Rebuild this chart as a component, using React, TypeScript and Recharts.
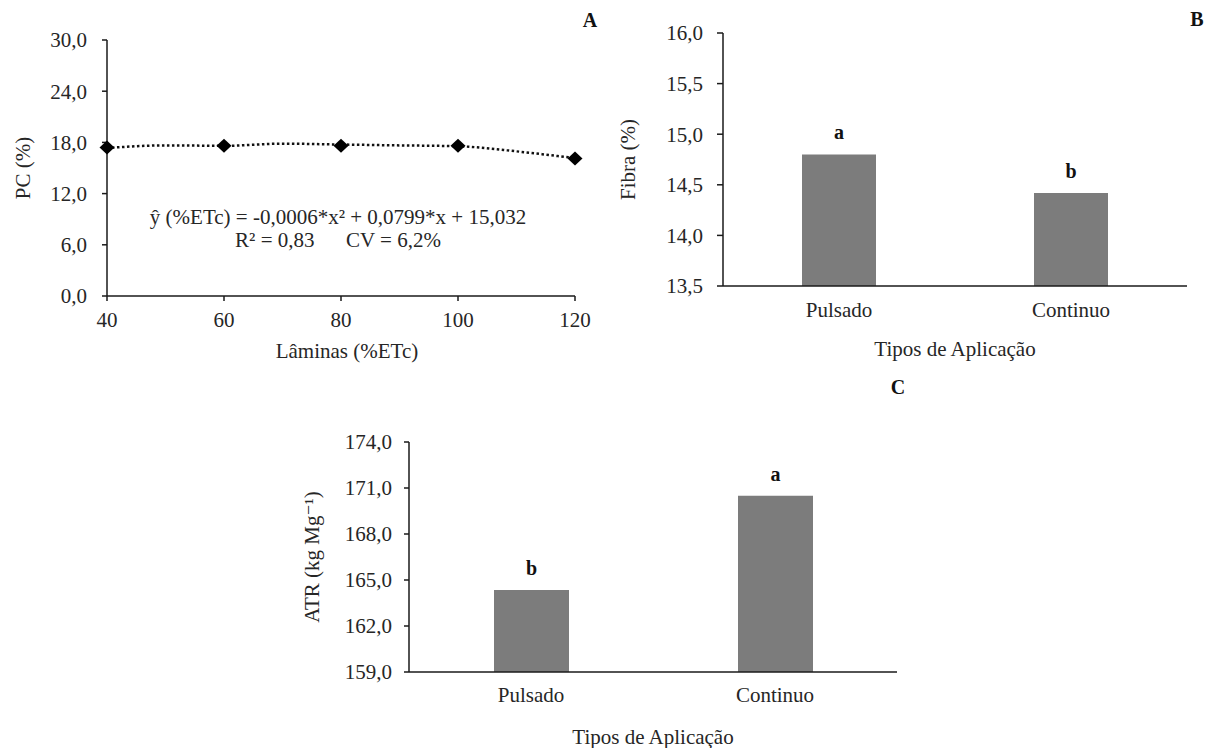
import {
  ComposedChart, Line, BarChart, Bar, XAxis, YAxis, Label, LabelList,
} from "recharts";

const FONT = "'Liberation Serif', 'DejaVu Serif', 'Times New Roman', Times, serif";
const INK = "#262626";
const AXIS = "#1a1a1a";
const BAR = "#7c7c7c";

// A - PC (%) x Lâminas
const laminas = [40, 60, 80, 100, 120];
const pc = [17.4, 17.6, 17.6, 17.6, 16.1];
const trendX = [40, 50, 60, 70, 80, 90, 100, 110, 120];
const trendY = [17.34, 17.65, 17.6, 17.85, 17.75, 17.65, 17.55, 16.95, 16.15];
const pcTicks = [0, 6, 12, 18, 24, 30];

// B - Fibra (%)
const tipos = ["Pulsado", "Continuo"];
const fibra = [14.8, 14.42];
const letrasFibra = ["a", "b"];
const fibraTicks = [13.5, 14, 14.5, 15, 15.5, 16];

// C - ATR
const atr = [164.35, 170.5];
const letrasAtr = ["b", "a"];
const atrTicks = [159, 162, 165, 168, 171, 174];

const fmt = (v: number) => v.toFixed(1).replace(".", ",");

const tickStyle = { fill: INK, fontSize: 21, fontFamily: FONT };
const titleStyle = { fill: INK, fontSize: 21, fontFamily: FONT };
const yTitleStyle = { fill: INK, fontSize: 21, fontFamily: FONT, textAnchor: "middle" as const };
const axisLine = { stroke: AXIS, strokeWidth: 1.5 };
const letterStyle = { fill: "#111", fontSize: 20, fontFamily: FONT, fontWeight: "bold" as const };

const pointData = laminas.map((x, i) => ({ x, y: pc[i] }));
const trendData = trendX.map((x, i) => ({ x, y: trendY[i] }));
const fibraData = tipos.map((name, i) => ({ name, v: fibra[i], letra: letrasFibra[i] }));
const atrData = tipos.map((name, i) => ({ name, v: atr[i], letra: letrasAtr[i] }));

function Diamond(props: any) {
  const { cx, cy, index } = props;
  if (cx == null || cy == null) return null;
  return (
    <polygon
      key={`d-${index}`}
      points={`${cx},${cy - 7} ${cx + 7.5},${cy} ${cx},${cy + 7} ${cx - 7.5},${cy}`}
      fill="#000"
    />
  );
}

function PanelLetter({ x, y, text }: { x: number; y: number; text: string }) {
  return (
    <span
      style={{
        position: "absolute", left: x, top: y, transform: "translate(-50%, -50%)",
        fontFamily: FONT, fontWeight: "bold", fontSize: 20, color: "#111", lineHeight: 1,
      }}
    >
      {text}
    </span>
  );
}

export default function App() {
  return (
    <div style={{ position: "absolute", left: 0, top: 0, width: 1215, height: 748, background: "#fff" }}>
      {/* A */}
      <div style={{ position: "absolute", left: 0, top: 0 }}>
        <ComposedChart width={600} height={370} margin={{ top: 40, right: 25, left: 0, bottom: 12 }}>
          <XAxis
            type="number" dataKey="x" domain={[40, 120]} ticks={laminas}
            height={62} tickSize={5} tickMargin={11} tick={tickStyle}
            axisLine={axisLine} tickLine={axisLine}
          >
            <Label value="Lâminas  (%ETc)" position="insideBottom" offset={0} dx={6} style={titleStyle} />
          </XAxis>
          <YAxis
            type="number" domain={[0, 30]} ticks={pcTicks} tickFormatter={fmt}
            width={107} tickSize={5} tickMargin={15} tick={tickStyle}
            axisLine={axisLine} tickLine={axisLine}
          >
            <Label value="PC (%)" angle={-90} position="insideLeft" offset={23} style={yTitleStyle} />
          </YAxis>
          <Line
            data={trendData} dataKey="y" type="monotone" stroke="#111" strokeWidth={2.5}
            strokeDasharray="2.5 2.5" dot={false} activeDot={false} isAnimationActive={false}
          />
          <Line
            data={pointData} dataKey="y" stroke="none" dot={Diamond} activeDot={false}
            isAnimationActive={false}
          />
        </ComposedChart>
      </div>
      <div
        style={{
          position: "absolute", left: 138, top: 206, width: 400, textAlign: "center",
          fontFamily: FONT, fontSize: 21, lineHeight: "23px", color: INK, whiteSpace: "pre",
        }}
      >
        {"ŷ (%ETc) = -0,0006*x² + 0,0799*x + 15,032\nR² = 0,83      CV = 6,2%"}
      </div>
      <PanelLetter x={590} y={20} text="A" />

      {/* B */}
      <div style={{ position: "absolute", left: 600, top: 0 }}>
        <BarChart width={615} height={370} data={fibraData} margin={{ top: 33, right: 28, left: 0, bottom: 14 }}>
          <XAxis
            dataKey="name" height={70} tickLine={false} tickSize={0} tickMargin={16}
            tick={tickStyle} axisLine={axisLine}
          >
            <Label value="Tipos de Aplicação" position="insideBottom" offset={0} style={titleStyle} />
          </XAxis>
          <YAxis
            type="number" domain={[13.5, 16]} ticks={fibraTicks} tickFormatter={fmt} allowDataOverflow
            width={123} tickSize={6} tickMargin={14} tick={tickStyle}
            axisLine={axisLine} tickLine={axisLine}
          >
            <Label value="Fibra (%)" angle={-90} position="insideLeft" offset={28} style={yTitleStyle} />
          </YAxis>
          <Bar dataKey="v" fill={BAR} barSize={74} isAnimationActive={false}>
            <LabelList dataKey="letra" position="top" offset={15} style={letterStyle} />
          </Bar>
        </BarChart>
      </div>
      <PanelLetter x={1197} y={19} text="B" />

      {/* C */}
      <div style={{ position: "absolute", left: 280, top: 380 }}>
        <BarChart width={640} height={368} data={atrData} margin={{ top: 62, right: 23, left: 0, bottom: 4 }}>
          <XAxis
            dataKey="name" height={72} tickLine={false} tickSize={0} tickMargin={15}
            tick={tickStyle} axisLine={axisLine}
          >
            <Label value="Tipos de Aplicação" position="insideBottom" offset={0} style={titleStyle} />
          </XAxis>
          <YAxis
            type="number" domain={[159, 174]} ticks={atrTicks} tickFormatter={fmt} allowDataOverflow
            width={129} tickSize={5} tickMargin={12} tick={tickStyle}
            axisLine={axisLine} tickLine={axisLine}
          >
            <Label value="ATR (kg Mg⁻¹)" angle={-90} position="insideLeft" offset={32} style={yTitleStyle} />
          </YAxis>
          <Bar dataKey="v" fill={BAR} barSize={75} isAnimationActive={false}>
            <LabelList dataKey="letra" position="top" offset={15} style={letterStyle} />
          </Bar>
        </BarChart>
      </div>
      <PanelLetter x={898} y={387} text="C" />
    </div>
  );
}
